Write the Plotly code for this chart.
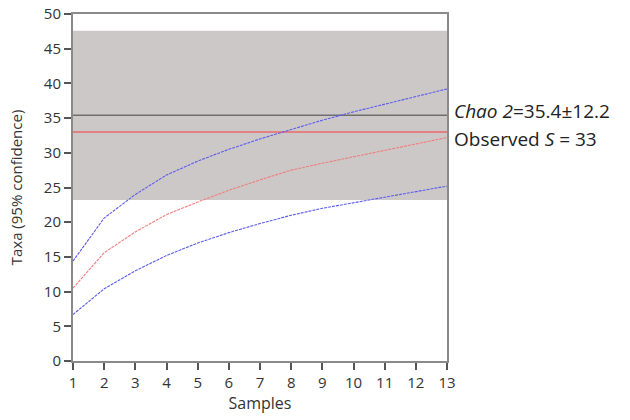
import plotly.graph_objects as go

# Rarefaction curve (sample-based) with 95% confidence bounds
samples = list(range(1, 14))
taxa_mean = [10.5, 15.6, 18.6, 21.1, 22.9, 24.6, 26.1, 27.5, 28.5, 29.4, 30.4, 31.3, 32.2]
taxa_upper = [14.4, 20.6, 24.0, 26.8, 28.8, 30.5, 32.0, 33.4, 34.7, 35.9, 37.0, 38.1, 39.2]
taxa_lower = [6.7, 10.4, 13.0, 15.2, 17.0, 18.5, 19.8, 21.0, 22.0, 22.8, 23.6, 24.4, 25.2]

# Richness estimates
chao2 = 35.4
chao2_sd = 12.2
observed_s = 33

x_ticks = list(range(1, 14))
y_ticks = list(range(0, 51, 5))

axis_color = "#8a8a8a"
font_family = "Open Sans, Noto Sans, sans-serif"

fig = go.Figure()

# Chao 2 ± SD band
fig.add_shape(
    type="rect", xref="x", yref="y",
    x0=samples[0], x1=samples[-1],
    y0=chao2 - chao2_sd, y1=chao2 + chao2_sd,
    fillcolor="#cdc8c8", line_width=0, layer="below",
)

# Chao 2 estimate
fig.add_trace(go.Scatter(
    x=[samples[0], samples[-1]], y=[chao2, chao2], mode="lines",
    line=dict(color="#6e6e6e", width=1.6), hoverinfo="skip",
))
# Observed richness
fig.add_trace(go.Scatter(
    x=[samples[0], samples[-1]], y=[observed_s, observed_s], mode="lines",
    line=dict(color="#e8696b", width=1.6), hoverinfo="skip",
))

# Confidence bounds and mean curve
for ys, col in ((taxa_upper, "#5d5dec"), (taxa_lower, "#5d5dec"), (taxa_mean, "#f07c7c")):
    fig.add_trace(go.Scatter(
        x=samples, y=ys, mode="lines",
        line=dict(color=col, width=1.1, dash="3px,1px"),
    ))

# Estimate labels to the right of the plot area
fig.add_annotation(
    x=1, xref="paper", xanchor="left", xshift=6,
    y=chao2, yref="y", yanchor="bottom", yshift=-10, borderpad=0,
    text="<i>Chao 2</i>=35.4±12.2", showarrow=False,
    font=dict(size=19, color="#222222", family=font_family),
)
fig.add_annotation(
    x=1, xref="paper", xanchor="left", xshift=6,
    y=chao2, yref="y", yanchor="top", yshift=-10, borderpad=0,
    text="Observed <i>S</i> = 33", showarrow=False,
    font=dict(size=19, color="#222222", family=font_family),
)

fig.update_layout(
    width=630, height=420,
    margin=dict(l=73, r=183, t=14, b=59, autoexpand=False),
    paper_bgcolor="white", plot_bgcolor="white",
    showlegend=False,
    font=dict(family=font_family, color="#333333"),
)
fig.update_xaxes(
    range=[1, 13], tickvals=x_ticks, ticktext=[str(v) for v in x_ticks],
    showgrid=False, zeroline=False, automargin=False,
    showline=True, linecolor=axis_color, linewidth=2, mirror=True,
    ticks="outside", ticklen=7, tickcolor="#555555", tickwidth=1.5,
    tickfont=dict(size=15, color="#333333"),
    title=dict(text="Samples", font=dict(size=16, color="#333333"), standoff=6),
)
fig.update_yaxes(
    range=[0, 50], tickvals=y_ticks,
    showgrid=False, zeroline=False, automargin=False,
    showline=True, linecolor=axis_color, linewidth=2, mirror=True,
    ticks="outside", ticklen=7, tickcolor="#555555", tickwidth=1.5,
    tickfont=dict(size=15, color="#333333"),
    title=dict(text="Taxa (95% confidence)", font=dict(size=15, color="#333333"), standoff=18),
)

fig.write_html("out.html")
